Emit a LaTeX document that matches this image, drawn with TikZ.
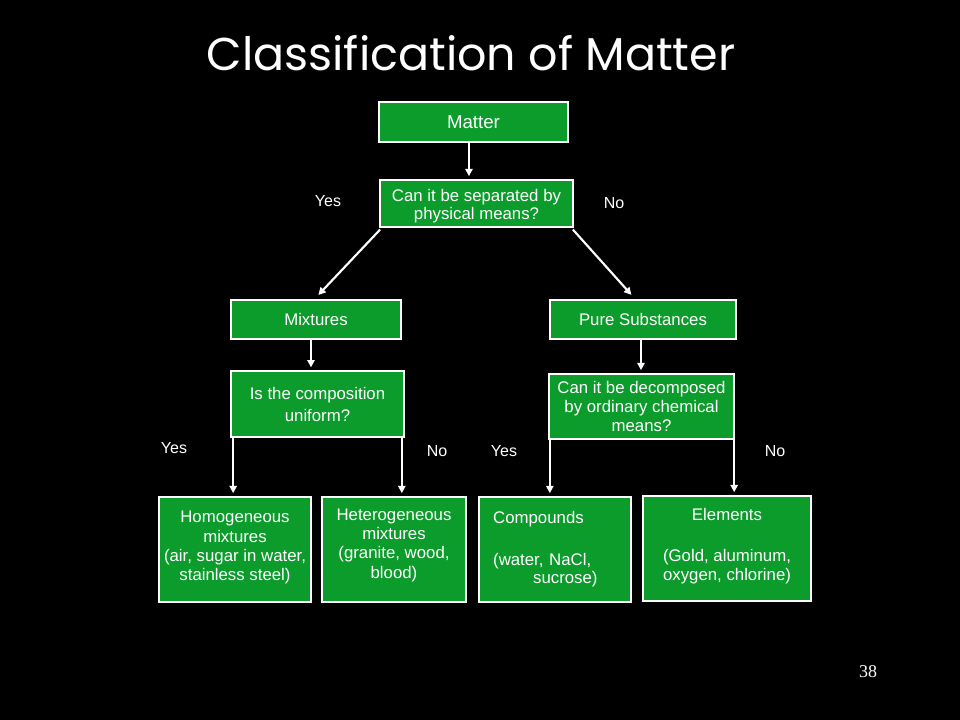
\documentclass[tikz,border=0pt]{standalone}
\usepackage{fontspec}
\setmainfont{Liberation Sans}
\newfontfamily\titlefont{Poppins}
\newfontfamily\numfont{Liberation Serif}
\usetikzlibrary{arrows.meta}
\definecolor{boxgreen}{RGB}{12,156,44}
\tikzset{
  px/.style={x=0.75pt,y=-0.75pt},
  box/.style={draw=white, line width=1.5pt, fill=boxgreen, text=white,
    font=\fontsize{12.6pt}{14.5pt}\selectfont, align=center, inner sep=2pt},
  arr/.style={draw=white, line width=1.6pt,
    -{Triangle[length=5.5pt,width=5.5pt]}, shorten >=2pt},
  lbl/.style={text=white, font=\fontsize{12pt}{14pt}\selectfont}
}
\begin{document}
\begin{tikzpicture}[px]
\fill[black] (0,0) rectangle (960,720);
\useasboundingbox (0,0) rectangle (960,720);

\node[text=white, font=\titlefont\fontsize{34.5pt}{40pt}\selectfont] (title) at (471,53) {Classification of Matter};
\node[text=white, font=\numfont\fontsize{13.5pt}{15pt}\selectfont] (pagenum) at (868,672) {38};

\node[box, minimum width=142pt, minimum height=30.5pt, font=\fontsize{14pt}{16pt}\selectfont] (matter) at (473.5,122) {Matter};
\node[box, minimum width=145pt, minimum height=35.5pt, font=\fontsize{12.6pt}{14pt}\selectfont] (q1) at (476.5,203.5) {\rule{0pt}{13pt}Can it be separated by\\physical means?};

\node[box, minimum width=127.5pt, minimum height=29.5pt] (mix) at (316,319.5) {Mixtures};
\node[box, minimum width=129.5pt, minimum height=49.5pt, font=\fontsize{12.6pt}{16.5pt}\selectfont] (q2) at (317.5,404) {Is the composition\\uniform?};

\node[box, minimum width=139.5pt, minimum height=29.5pt] (pure) at (643,319.5) {Pure Substances};
\node[box, minimum width=139pt, minimum height=49pt] (q3) at (641.5,406.5) {Can it be decomposed\\by ordinary chemical\\means?};

\node[box, minimum width=114pt, minimum height=79pt] (homo) at (235,549.5) {Homogeneous\\mixtures\\(air, sugar in water,\\stainless steel)\\[-9.5pt]};
\node[box, minimum width=108pt, minimum height=79pt] (hetero) at (394,549.5) {Heterogeneous\\mixtures\\(granite, wood,\\blood)\\[-5.5pt]};
\node[box, minimum height=79pt, text width=92pt, inner xsep=11pt, align=left, font=\fontsize{12.6pt}{15.5pt}\selectfont] (comp) at (554.5,549.5) {Compounds\\[15.5pt](water, NaCl,\\[-1.5pt]\hspace*{30pt}sucrose)\\[4pt]};
\node[box, minimum width=126pt, minimum height=79pt, font=\fontsize{12.6pt}{15.5pt}\selectfont] (elem) at (727,548.5) {Elements\\[15.5pt](Gold, aluminum,\\[-1.5pt]oxygen, chlorine)\\[-9.5pt]};

\draw[arr] ([xshift=-3.4pt]matter.south) -- ([xshift=-3.4pt]matter.south |- q1.north);
\draw[arr, shorten >=4pt] ([xshift=1pt,yshift=-1pt]q1.south west) -- ([xshift=-1pt]mix.north);
\draw[arr, shorten >=4pt] ([xshift=-1pt,yshift=-1pt]q1.south east) -- ([xshift=-6pt]pure.north);
\draw[arr] ([xshift=-3.75pt]mix.south) -- ([xshift=-3.75pt]mix.south |- q2.north);
\draw[arr] ([xshift=-1.5pt]pure.south) -- ([xshift=-1.5pt]pure.south |- q3.north);
\draw[arr] ([xshift=2.25pt]q2.south west) -- ([xshift=2.25pt]q2.south west |- homo.north);
\draw[arr] ([xshift=-2.25pt]q2.south east) -- ([xshift=-2.25pt]q2.south east |- hetero.north);
\draw[arr] ([xshift=1.5pt]q3.south west) -- ([xshift=1.5pt]q3.south west |- comp.north);
\draw[arr] ([xshift=-0.75pt]q3.south east) -- ([xshift=-0.75pt]q3.south east |- elem.north);

\node[lbl] (yes1) at (328,201) {Yes};
\node[lbl] (no1) at (614,203) {No};
\node[lbl] (yes2) at (174,448) {Yes};
\node[lbl] (no2) at (437,451) {No};
\node[lbl] (yes3) at (504,451) {Yes};
\node[lbl] (no3) at (775,451) {No};
\end{tikzpicture}
\end{document}
